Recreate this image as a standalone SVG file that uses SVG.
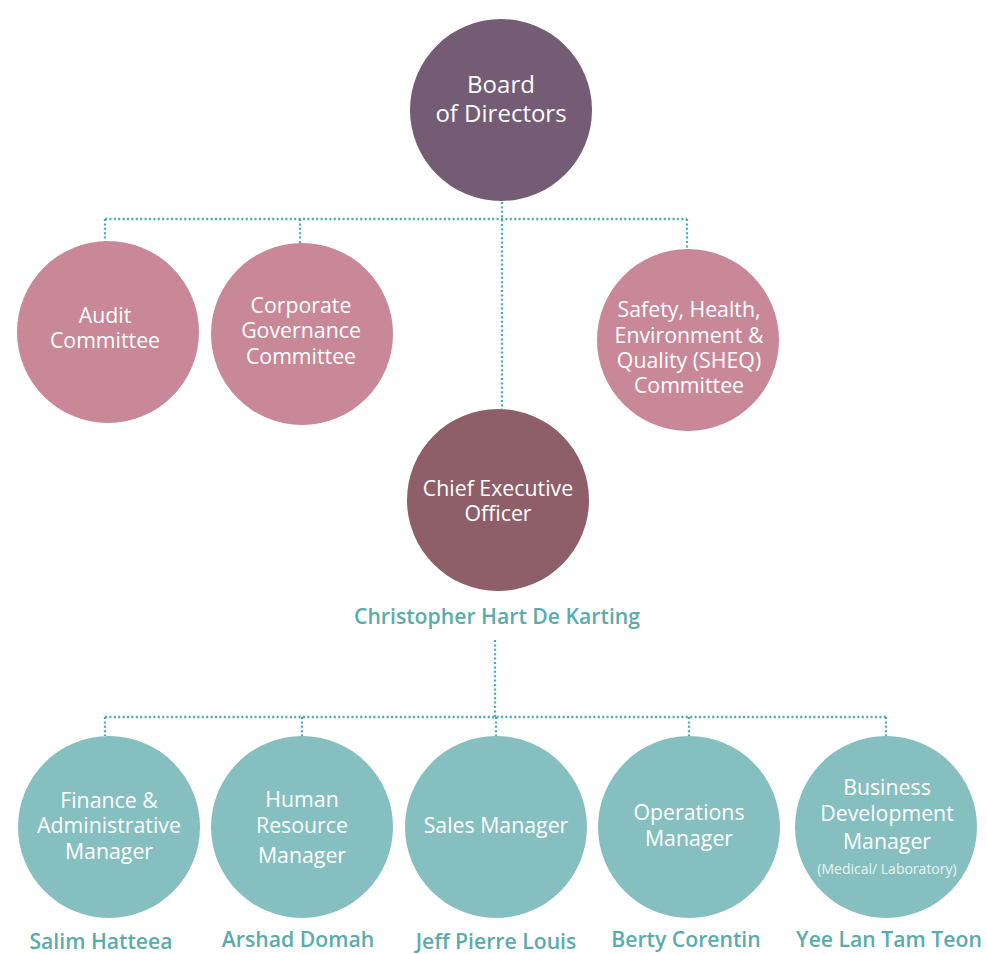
<svg xmlns="http://www.w3.org/2000/svg" width="987" height="954" viewBox="0 0 987 954">
<style>
.t{font-family:"Open Sans","Noto Sans","Liberation Sans",sans-serif;fill:#fff;text-anchor:middle;font-size:21.3px}
.b{font-size:24px}
.s{font-size:14px;fill:#e8f3f3}
.n{font-family:"Open Sans","Noto Sans","Liberation Sans",sans-serif;fill:#5aacab;text-anchor:middle;font-size:21.2px;font-weight:600}
.c{fill:none;stroke:#4aabab;stroke-width:2.3;stroke-dasharray:2 2.4}
</style>
<rect width="987" height="954" fill="#fff"/>
<g id="connectors">
<path class="c" d="M502 202V409"/>
<path class="c" d="M105 219H687"/>
<path class="c" d="M105 219V242M300 219V243M687 219V249"/>
<path class="c" d="M495 640V717"/>
<path class="c" d="M105 717H886"/>
<path class="c" d="M105 717V736M302 717V736M496 717V736M689 717V736M886 717V736"/>
</g>
<g id="board"><circle cx="501" cy="110" r="91" fill="#735c74"/><text class="t b" x="501" y="93">Board</text><text class="t b" x="501" y="122">of Directors</text></g>
<g id="audit"><circle cx="108" cy="332" r="91" fill="#c98898"/><text class="t" x="105" y="323">Audit</text><text class="t" x="105" y="348">Committee</text></g>
<g id="corporate"><circle cx="302" cy="334" r="91" fill="#c98898"/><text class="t" x="301" y="313">Corporate</text><text class="t" x="301" y="338">Governance</text><text class="t" x="301" y="364">Committee</text></g>
<g id="sheq"><circle cx="688" cy="340" r="91" fill="#c98898"/><text class="t" x="689" y="317">Safety, Health,</text><text class="t" x="689" y="343">Environment &amp;</text><text class="t" x="689" y="368">Quality (SHEQ)</text><text class="t" x="689" y="393">Committee</text></g>
<g id="ceo"><circle cx="498" cy="500" r="91" fill="#8e5f69"/><text class="t" x="498" y="496">Chief Executive</text><text class="t" x="498" y="521">Officer</text><text class="n" x="497" y="624">Christopher Hart De Karting</text></g>
<g id="finance"><circle cx="109" cy="827" r="91" fill="#86bfbf"/><text class="t" x="109" y="808">Finance &amp;</text><text class="t" x="109" y="833">Administrative</text><text class="t" x="109" y="859">Manager</text><text class="n" x="101" y="949">Salim Hatteea</text></g>
<g id="hr"><circle cx="302" cy="827" r="91" fill="#86bfbf"/><text class="t" x="302" y="807">Human</text><text class="t" x="302" y="833">Resource</text><text class="t" x="302" y="863">Manager</text><text class="n" x="298" y="947">Arshad Domah</text></g>
<g id="sales"><circle cx="496" cy="827" r="91" fill="#86bfbf"/><text class="t" x="496" y="833">Sales Manager</text><text class="n" x="496" y="949">Jeff Pierre Louis</text></g>
<g id="operations"><circle cx="689" cy="827" r="91" fill="#86bfbf"/><text class="t" x="689" y="820">Operations</text><text class="t" x="689" y="846">Manager</text><text class="n" x="686" y="947">Berty Corentin</text></g>
<g id="bizdev"><circle cx="886" cy="827" r="91" fill="#86bfbf"/><text class="t" x="887" y="795">Business</text><text class="t" x="887" y="821">Development</text><text class="t" x="887" y="849">Manager</text><text class="t s" x="887" y="874">(Medical/ Laboratory)</text><text class="n" x="889" y="947">Yee Lan Tam Teon</text></g>
</svg>
